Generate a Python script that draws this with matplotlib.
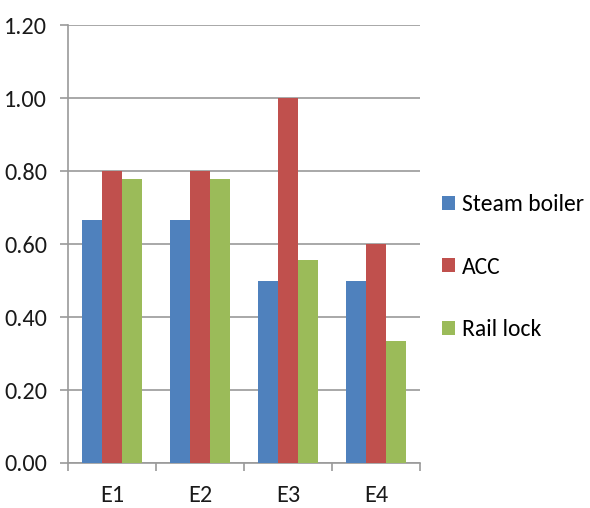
import matplotlib
matplotlib.use("Agg")
import matplotlib.pyplot as plt
import numpy as np
from matplotlib.patches import Patch

categories = ["E1", "E2", "E3", "E4"]
steam_boiler = [0.667, 0.667, 0.50, 0.50]
acc = [0.80, 0.80, 1.00, 0.60]
rail_lock = [0.778, 0.778, 0.556, 0.333]
series_names = ["Steam boiler", "ACC", "Rail lock"]
y_ticks = [0.0, 0.2, 0.4, 0.6, 0.8, 1.0, 1.2]

colors = ["#4F81BD", "#C0504D", "#9BBB59"]
font = ["Carlito", "DejaVu Sans"]
fsize = 17.5
grid_c = "#9a9a9a"
text_c = "#1a1a1a"

fig = plt.figure(figsize=(5.9, 5.08), dpi=100)
ax = fig.add_axes([0.115, 0.0886, 0.597, 0.862])

x = np.arange(len(categories))
w = 0.227
for i, (vals, c) in enumerate(zip([steam_boiler, acc, rail_lock], colors)):
    ax.bar(x + (i - 1) * w, vals, width=w, color=c, zorder=3)

ax.set_xlim(-0.5, len(categories) - 0.5)
ax.set_ylim(0, 1.2)
ax.set_yticks(y_ticks)
ax.set_yticklabels([f"{v:.2f}" for v in y_ticks], fontfamily=font, fontsize=fsize, color=text_c)
ax.set_xticks(x)
ax.set_xticklabels(categories, fontfamily=font, fontsize=fsize, color=text_c)
ax.set_xticks(np.arange(-0.5, len(categories)), minor=True)
ax.tick_params(axis="x", which="major", length=0, pad=16)
ax.tick_params(axis="x", which="minor", length=6, color=grid_c, width=1.2)
ax.tick_params(axis="y", length=6, color=grid_c, width=1.2, pad=9)

ax.yaxis.grid(True, color=grid_c, linewidth=1.2, zorder=0)
for s in ["top", "right"]:
    ax.spines[s].set_visible(False)
for s in ["left", "bottom"]:
    ax.spines[s].set_color(grid_c)
    ax.spines[s].set_linewidth(1.2)

handles = [Patch(facecolor=c, label=n) for c, n in zip(colors, series_names)]
fig.legend(handles=handles, loc="center left", bbox_to_anchor=(0.749, 0.474),
           frameon=False, prop={"family": font, "size": 17},
           borderpad=0, borderaxespad=0,
           handlelength=0.55, handleheight=0.55, handletextpad=0.3,
           labelspacing=1.75)

fig.savefig("out.png", dpi=100)
